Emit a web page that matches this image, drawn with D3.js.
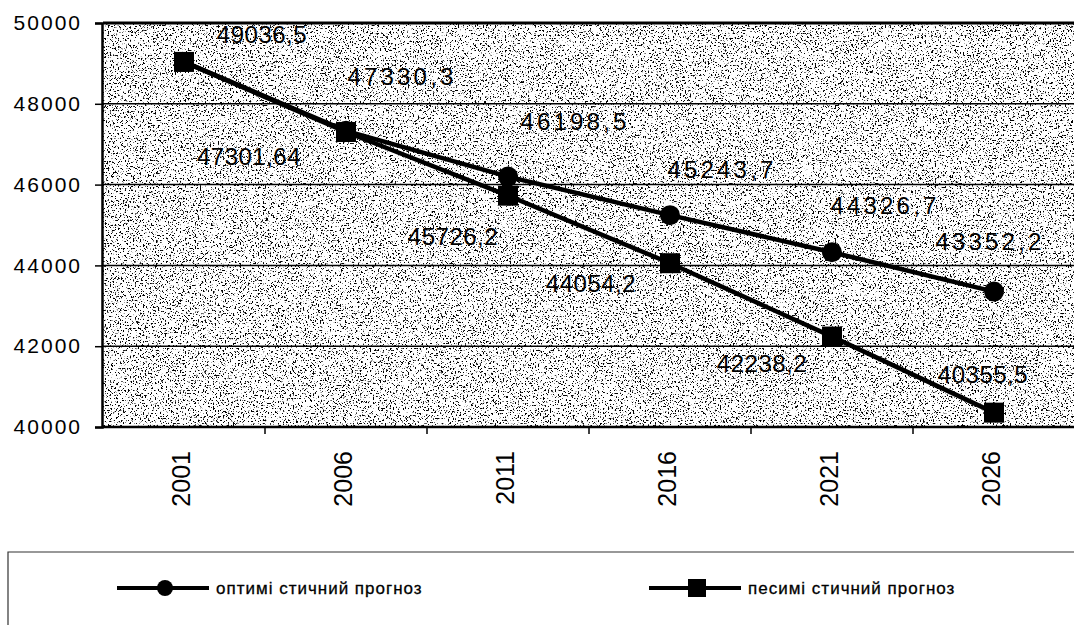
<!DOCTYPE html>
<html>
<head>
<meta charset="utf-8">
<script src="https://cdn.jsdelivr.net/npm/d3@7"></script>
<style>
    body { margin: 0; background: #fff; }
    text { font-family: "Liberation Sans", Arial, sans-serif; fill: #000; }
</style>
</head>
<body>
<svg width="1074" height="625"></svg>
<script>
const years = ['2001', '2006', '2011', '2016', '2021', '2026']
const optimistic = [49036.5, 47330.3, 46198.5, 45243.7, 44326.7, 43352.2]
const pessimistic = [49036.5, 47301.64, 45726.2, 44054.2, 42238.2, 40355.5]
const yTicks = [40000, 42000, 44000, 46000, 48000, 50000]
const seriesNames = ['оптимі стичний прогноз', 'песимі стичний прогноз']

// label placement (hand placed in the original), dx from point, dy of baseline
const optLabelPos = [null, [56, -46], [67, -47], [52, -37], [53, -38], [-4, -42]]
const pesLabelPos = [[78, -19], [-97, 33], [-55, 49], [-79, 29], [-70, 35], [-11, -30]]

function render() {
    const svg = d3.select('svg')
    const left = 103, right = 1075, top = 23, bottom = 427

    const x = d3.scaleBand().domain(years).range([left, right])
    const cx = d => x(d) + x.bandwidth() / 2
    const y = d3.scaleLinear().domain([40000, 50000]).range([bottom, top])
    const fmt = v => String(v).replace('.', ',')

    // speckled background like the scan
    const defs = svg.append('defs')
    const filt = defs.append('filter').attr('id', 'speckle')
        .attr('x', 0).attr('y', 0).attr('width', '100%').attr('height', '100%')
    filt.append('feTurbulence')
        .attr('type', 'fractalNoise')
        .attr('baseFrequency', 0.6)
        .attr('numOctaves', 3)
        .attr('seed', 7)
    filt.append('feColorMatrix')
        .attr('type', 'matrix')
        .attr('values', '0 0 0 0 0  0 0 0 0 0  0 0 0 0 0  14 0 0 0 -8.3')

    svg.append('rect')
        .attr('x', left).attr('y', top)
        .attr('width', right - left).attr('height', bottom - top)
        .attr('fill', '#fff')
    svg.append('rect')
        .attr('x', left).attr('y', top)
        .attr('width', right - left).attr('height', bottom - top)
        .attr('fill', '#000')
        .attr('filter', 'url(#speckle)')

    // grid
    svg.append('g').selectAll('line')
        .data(yTicks)
        .join('line')
        .attr('x1', left).attr('x2', right)
        .attr('y1', d => y(d)).attr('y2', d => y(d))
        .attr('stroke', '#000')
        .attr('stroke-width', d => d === 50000 ? 3 : 1.5)

    // y axis
    const yAxis = svg.append('g')
        .attr('transform', `translate(${left - 1},0)`)
        .call(d3.axisLeft(y).tickValues(yTicks).tickSize(7).tickFormat(d3.format('d')))
    yAxis.select('.domain').attr('stroke-width', 2.5)
    yAxis.selectAll('.tick line').attr('stroke-width', 1.5)
    yAxis.selectAll('text')
        .attr('x', -20)
        .style('font-family', '"Liberation Sans", Arial, sans-serif')
        .style('font-size', '21px')
        .style('letter-spacing', '2px')

    // x axis
    svg.append('line')
        .attr('x1', left - 1).attr('x2', right)
        .attr('y1', bottom).attr('y2', bottom)
        .attr('stroke', '#000').attr('stroke-width', 2.5)
    svg.append('g').selectAll('line')
        .data(years.slice(1))
        .join('line')
        .attr('x1', d => x(d)).attr('x2', d => x(d))
        .attr('y1', bottom).attr('y2', bottom + 7)
        .attr('stroke', '#000').attr('stroke-width', 1.5)
    svg.append('g').selectAll('text')
        .data(years)
        .join('text')
        .attr('transform', d => `translate(${cx(d) - 3},451) rotate(-90)`)
        .attr('dy', '0.35em')
        .attr('text-anchor', 'end')
        .style('font-size', '25px')
        .text(d => d)

    // lines
    const line = d3.line().x((d, i) => cx(years[i])).y(d => y(d))
    svg.append('path').datum(pessimistic)
        .attr('d', line).attr('fill', 'none')
        .attr('stroke', '#000').attr('stroke-width', 4.5)
    svg.append('path').datum(optimistic)
        .attr('d', line).attr('fill', 'none')
        .attr('stroke', '#000').attr('stroke-width', 4.5)

    svg.append('g').selectAll('circle')
        .data(optimistic)
        .join('circle')
        .attr('cx', (d, i) => cx(years[i]))
        .attr('cy', d => y(d))
        .attr('r', 10)
    svg.append('g').selectAll('rect')
        .data(pessimistic)
        .join('rect')
        .attr('x', (d, i) => cx(years[i]) - 10)
        .attr('y', d => y(d) - 10)
        .attr('width', 20).attr('height', 20)

    // value labels
    const optLabels = optimistic.map((v, i) => ({ v, i, pos: optLabelPos[i] })).filter(d => d.pos)
    const pesLabels = pessimistic.map((v, i) => ({ v, i, pos: pesLabelPos[i] })).filter(d => d.pos)

    svg.append('g').selectAll('text')
        .data(optLabels)
        .join('text')
        .attr('x', d => cx(years[d.i]) + d.pos[0])
        .attr('y', d => y(d.v) + d.pos[1])
        .attr('text-anchor', 'middle')
        .style('font-size', '24px')
        .style('letter-spacing', '3.2px')
        .text(d => fmt(d.v))
    svg.append('g').selectAll('text')
        .data(pesLabels)
        .join('text')
        .attr('x', d => cx(years[d.i]) + d.pos[0])
        .attr('y', d => y(d.v) + d.pos[1])
        .attr('text-anchor', 'middle')
        .style('font-size', '24px')
        .style('letter-spacing', '0.5px')
        .text(d => fmt(d.v))

    // legend
    const lg = svg.append('g')
    lg.append('path')
        .attr('d', 'M8,625V552H1074')
        .attr('fill', 'none').attr('stroke', '#333').attr('stroke-width', 1.2)

    const ly = 588
    const items = [
        { x: 117, name: seriesNames[0], marker: 'circle' },
        { x: 649, name: seriesNames[1], marker: 'square' }
    ]
    items.forEach(function (it) {
        lg.append('line')
            .attr('x1', it.x).attr('x2', it.x + 92)
            .attr('y1', ly).attr('y2', ly)
            .attr('stroke', '#000').attr('stroke-width', 4)
        if (it.marker === 'circle') {
            lg.append('circle').attr('cx', it.x + 48).attr('cy', ly).attr('r', 8)
        } else {
            lg.append('rect').attr('x', it.x + 39).attr('y', ly - 9)
                .attr('width', 18).attr('height', 18)
        }
        lg.append('text')
            .attr('x', it.x + 99).attr('y', ly)
            .attr('dy', '0.35em')
            .style('font-size', '17px')
            .style('letter-spacing', '1px')
            .style('stroke', '#000')
            .style('stroke-width', 0.3)
            .text(it.name)
    })
}

render()
</script>
</body>
</html>
